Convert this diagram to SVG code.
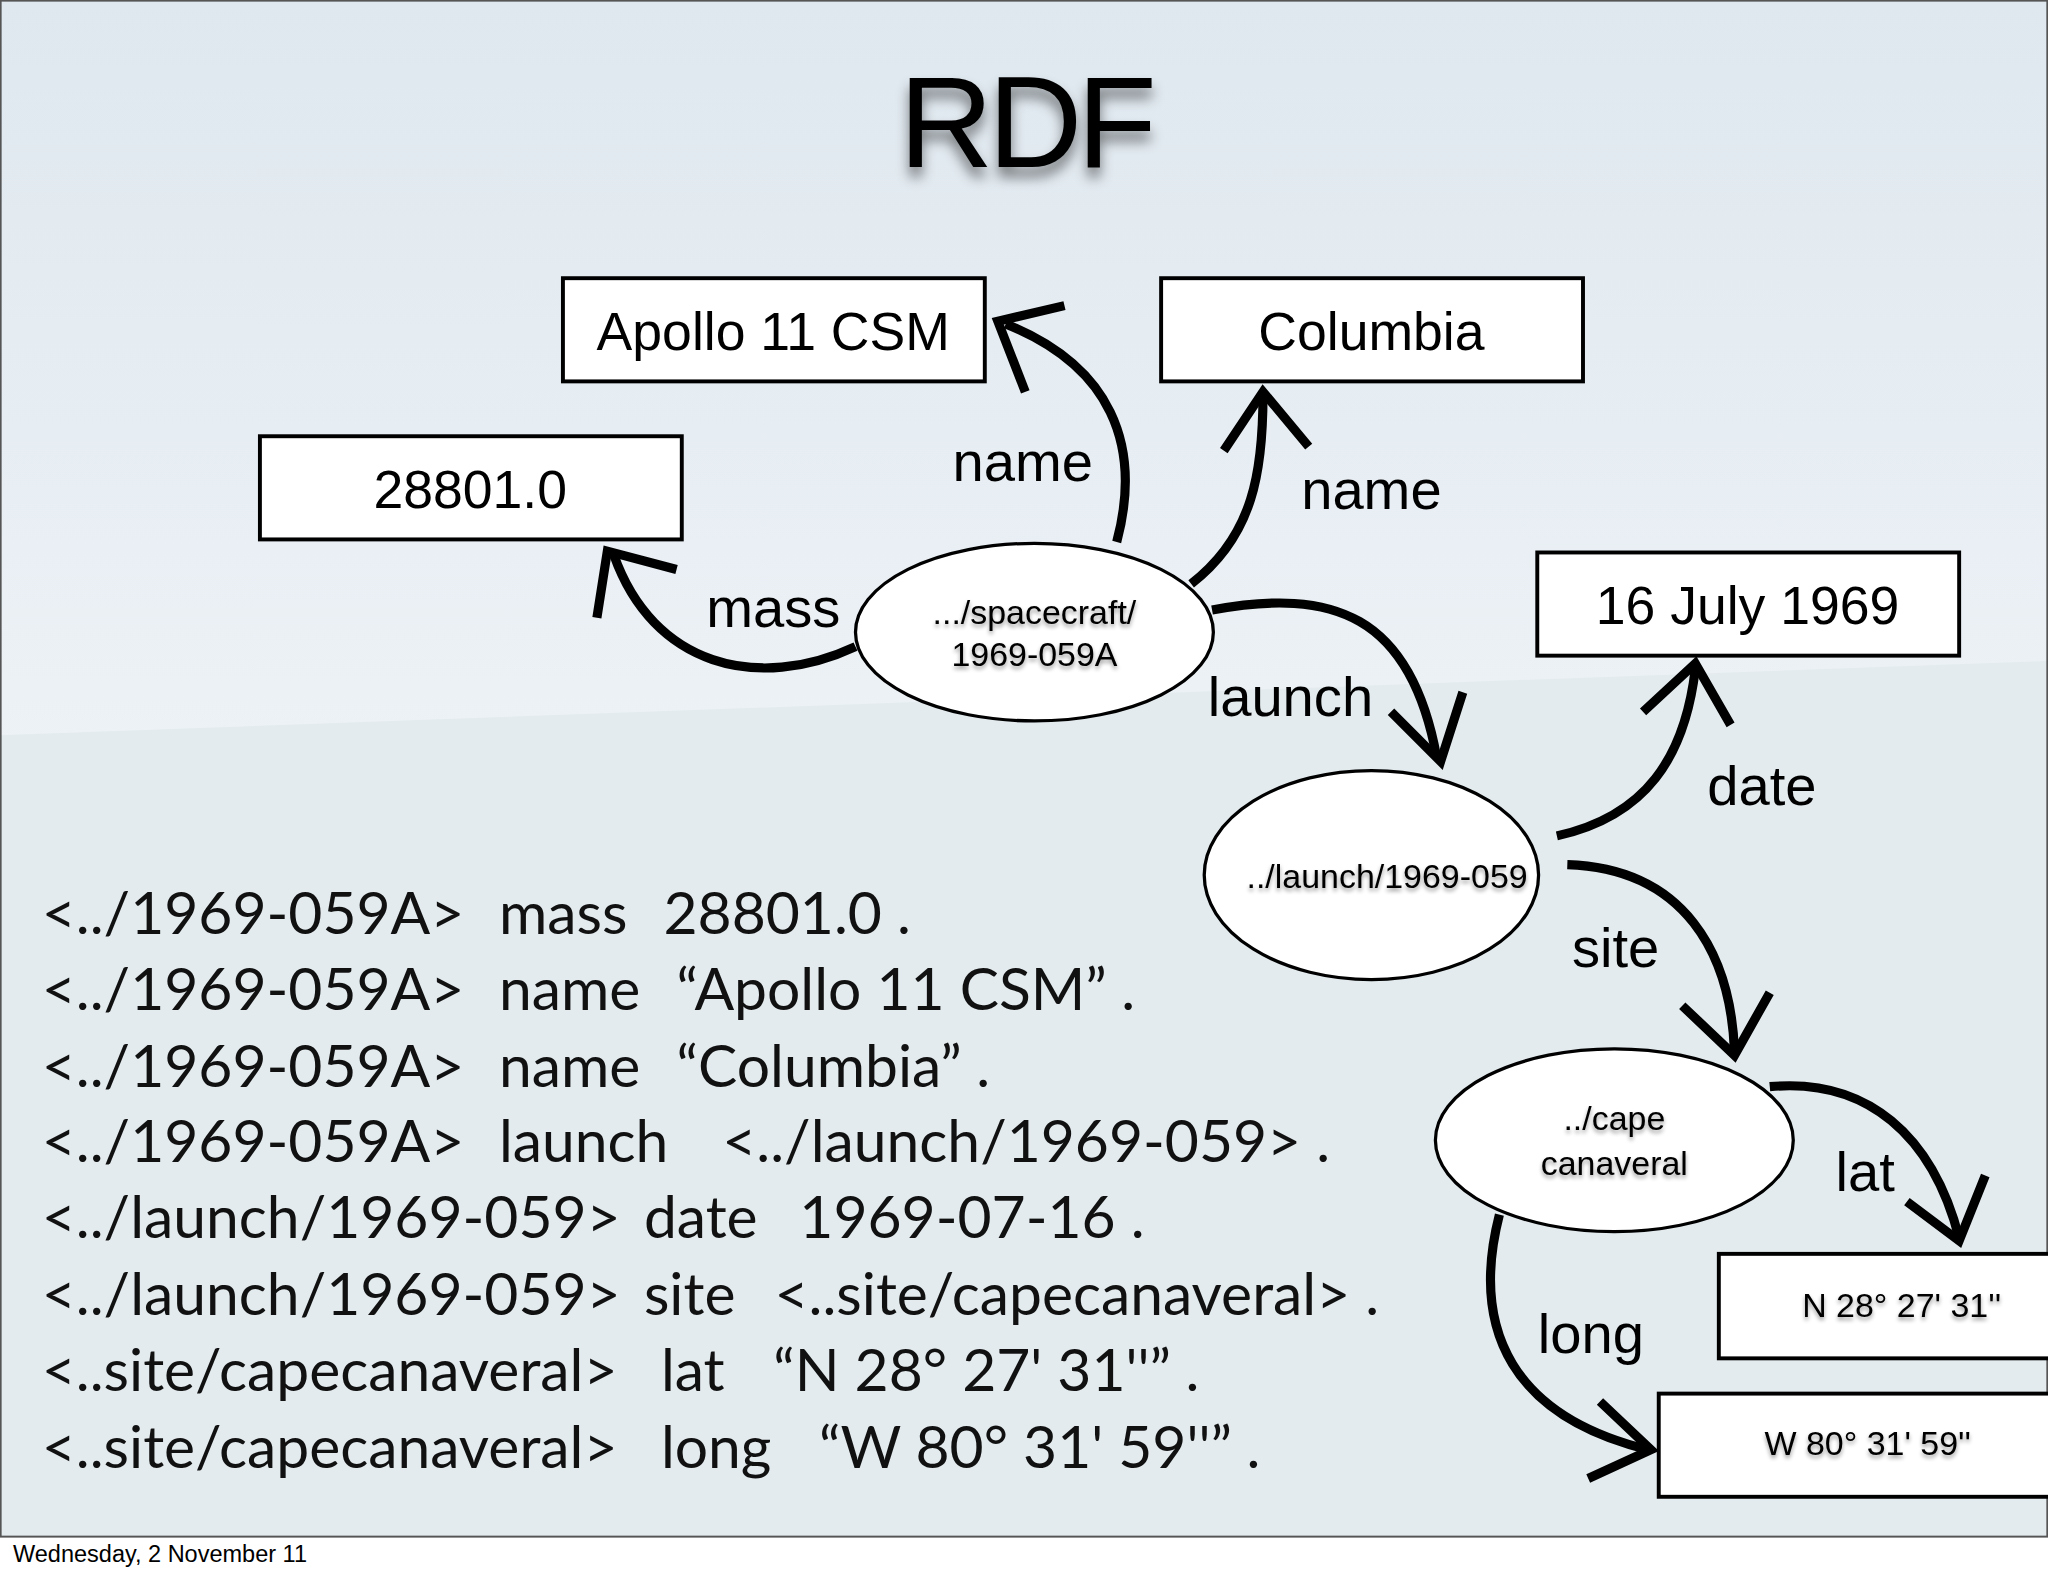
<svg xmlns="http://www.w3.org/2000/svg" width="2048" height="1576" viewBox="0 0 2048 1576">
<defs>
<linearGradient id="bg" x1="0" y1="0" x2="0" y2="1"><stop offset="0" stop-color="#dfe8ef"/><stop offset="1" stop-color="#fbfcfd"/></linearGradient>
<filter id="sh" x="-20%" y="-20%" width="140%" height="160%"><feGaussianBlur in="SourceAlpha" stdDeviation="5"/><feOffset dx="0" dy="8"/><feComponentTransfer><feFuncA type="linear" slope="0.5"/></feComponentTransfer><feMerge><feMergeNode/><feMergeNode in="SourceGraphic"/></feMerge></filter>
<filter id="ts" x="-10%" y="-30%" width="120%" height="160%"><feGaussianBlur in="SourceAlpha" stdDeviation="1.5"/><feOffset dx="0" dy="2"/><feComponentTransfer><feFuncA type="linear" slope="0.4"/></feComponentTransfer><feMerge><feMergeNode/><feMergeNode in="SourceGraphic"/></feMerge></filter>
<style>
.box{fill:#fff;stroke:#000;stroke-width:3}
.ell{fill:#fff;stroke:#000;stroke-width:2.5}
.bt{font-family:"Liberation Sans",Arial,sans-serif;font-size:41px;text-anchor:middle}
.et{font-family:"Liberation Sans",Arial,sans-serif;font-size:26px;text-anchor:middle}
.lb{font-family:"Liberation Sans",Arial,sans-serif;font-size:43px;text-anchor:middle}
.ar{fill:none;stroke:#000;stroke-width:7;stroke-linecap:butt;stroke-linejoin:miter}
.tr{font-family:Lato,"Open Sans",sans-serif;font-size:45px;fill:#111}
</style>
</defs>
<rect width="2048" height="1576" fill="#fff"/>
<g transform="scale(1.3061)">
<rect x="0" y="0" width="1568" height="1176" fill="url(#bg)"/>
<polygon points="0,563 1568,506 1568,1176 0,1176" fill="#e3ebee"/>
<rect x="0.5" y="0.5" width="1567" height="1176" fill="none" stroke="#555" stroke-width="1.5"/>
<text x="785" y="128" font-family="Liberation Sans,Arial,sans-serif" font-size="100" text-anchor="middle" filter="url(#sh)" letter-spacing="-4">RDF</text>

<g id="connectors">
<path class="ar" d="M655,495 C580,530 500,510 470,425"/><path class="ar" d="M457,473 L465,422 L518,436"/>
<path class="ar" d="M855,415 C875,340 850,280 770,248"/><path class="ar" d="M785,300 L764,246 L815,234"/>
<path class="ar" d="M912,447 C960,410 967,360 967,302"/><path class="ar" d="M937,345 L967,300 L1002,342"/>
<path class="ar" d="M928,467 C1020,450 1080,470 1100,580"/><path class="ar" d="M1065,545 L1103,583 L1120,530"/>
<path class="ar" d="M1192,640 C1260,625 1290,580 1298,512"/><path class="ar" d="M1258,545 L1298,508 L1325,555"/>
<path class="ar" d="M1200,662 C1290,665 1325,730 1328,805"/><path class="ar" d="M1288,770 L1328,808 L1355,760"/>
<path class="ar" d="M1355,832 C1430,825 1480,870 1500,948"/><path class="ar" d="M1460,920 L1500,950 L1520,900"/>
<path class="ar" d="M1148,930 C1125,1020 1160,1085 1262,1110"/><path class="ar" d="M1225,1073 L1264,1110 L1216,1132"/>
</g>

<g id="n-apollo"><rect class="box" x="431" y="213" width="323" height="79"/><text class="bt" x="592" y="268">Apollo 11 CSM</text></g>
<g id="n-columbia"><rect class="box" x="889" y="213" width="323" height="79"/><text class="bt" x="1050" y="268">Columbia</text></g>
<g id="n-mass"><rect class="box" x="199" y="334" width="323" height="79"/><text class="bt" x="360" y="389">28801.0</text></g>
<g id="n-date"><rect class="box" x="1177" y="423" width="323" height="79"/><text class="bt" x="1338" y="478">16 July 1969</text></g>
<g id="n-lat"><rect class="box" x="1316" y="960" width="270" height="80"/><text class="et" x="1456" y="1008" filter="url(#ts)">N 28° 27' 31''</text></g>
<g id="n-long"><rect class="box" x="1270" y="1067" width="316" height="79"/><text class="et" x="1430" y="1114" filter="url(#ts)">W 80° 31' 59''</text></g>
<g id="n-spacecraft"><ellipse class="ell" cx="792" cy="484" rx="137" ry="68"/><text class="et" x="792" y="478" filter="url(#ts)">.../spacecraft/</text><text class="et" x="792" y="510" filter="url(#ts)">1969-059A</text></g>
<g id="n-launch"><ellipse class="ell" cx="1050" cy="670" rx="128" ry="80"/><text class="et" x="1062" y="680" filter="url(#ts)">../launch/1969-059</text></g>
<g id="n-cape"><ellipse class="ell" cx="1236" cy="873" rx="137" ry="70"/><text class="et" x="1236" y="865" font-size="28" filter="url(#ts)">../cape</text><text class="et" x="1236" y="900" font-size="28" filter="url(#ts)">canaveral</text></g>

<g id="labels">
<text class="lb" x="783" y="368">name</text>
<text class="lb" x="1050" y="390">name</text>
<text class="lb" x="592" y="480">mass</text>
<text class="lb" x="988" y="548">launch</text>
<text class="lb" x="1349" y="616">date</text>
<text class="lb" x="1237" y="740">site</text>
<text class="lb" x="1428" y="912">lat</text>
<text class="lb" x="1218" y="1036">long</text>
</g>

<g id="triples" class="tr">
<text y="715"><tspan x="32">&lt;../1969-059A&gt;</tspan><tspan x="382">mass</tspan><tspan x="508">28801.0 .</tspan></text>
<text y="773"><tspan x="32">&lt;../1969-059A&gt;</tspan><tspan x="382">name</tspan><tspan x="518">“Apollo 11 CSM” .</tspan></text>
<text y="832"><tspan x="32">&lt;../1969-059A&gt;</tspan><tspan x="382">name</tspan><tspan x="518">“Columbia” .</tspan></text>
<text y="890"><tspan x="32">&lt;../1969-059A&gt;</tspan><tspan x="382">launch</tspan><tspan x="553">&lt;../launch/1969-059&gt; .</tspan></text>
<text y="948"><tspan x="32">&lt;../launch/1969-059&gt;</tspan><tspan x="493">date</tspan><tspan x="612">1969-07-16 .</tspan></text>
<text y="1007"><tspan x="32">&lt;../launch/1969-059&gt;</tspan><tspan x="493">site</tspan><tspan x="593">&lt;..site/capecanaveral&gt; .</tspan></text>
<text y="1065"><tspan x="32">&lt;..site/capecanaveral&gt;</tspan><tspan x="506">lat</tspan><tspan x="592">“N 28° 27' 31''” .</tspan></text>
<text y="1124"><tspan x="32">&lt;..site/capecanaveral&gt;</tspan><tspan x="506">long</tspan><tspan x="627">“W 80° 31' 59''” .</tspan></text>
</g>
<text x="10" y="1196" font-family="Liberation Sans,Arial,sans-serif" font-size="18">Wednesday, 2 November 11</text>
</g>
</svg>
